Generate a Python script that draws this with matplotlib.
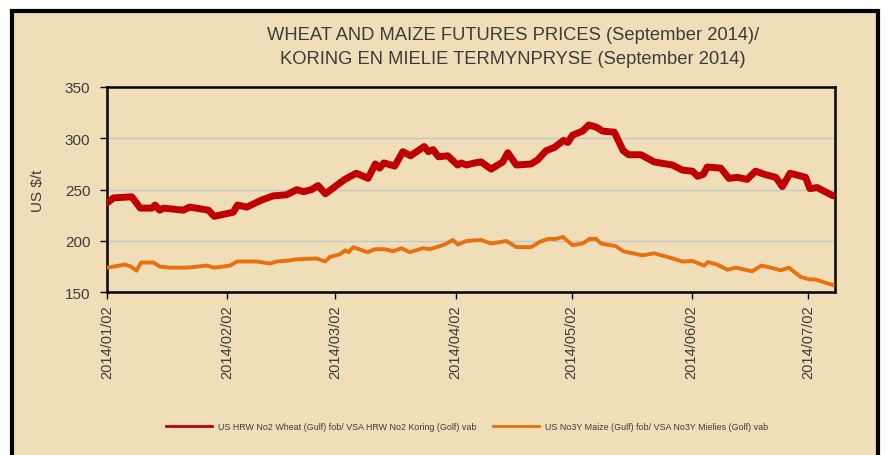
import matplotlib
matplotlib.use("Agg")
import matplotlib.pyplot as plt
import matplotlib.dates as mdates
from matplotlib.patches import Rectangle
from matplotlib.lines import Line2D
import pandas as pd

# ---- data (days after 2014-01-02, US$/t) ----
start_date = "2014-01-02"
wheat_days = [0, 1.7, 6.4, 8.6, 11.6, 12.4, 13.6, 14.6, 19.7, 21.3, 26.2, 27.7, 32.6, 33.7,
              36.1, 40, 43, 46.4, 49, 50.7, 52.8, 54.5, 56.4, 61.4, 64.4, 67.4, 69.3, 70.4,
              71.5, 74.3, 76.4, 78.4, 81.9, 83, 84.2, 85.6, 88, 90.5, 91.5, 92.8, 94.9, 96.6,
              99.2, 102.2, 103.5, 105.7, 109.5, 111.2, 113.4, 115.5, 117.9, 119, 120.2, 122.8,
              124.4, 126.3, 128, 131, 133.3, 134.7, 137.9, 141.3, 146, 148.6, 151.2, 152.5,
              154, 155, 158.5, 160.6, 162.8, 165.3, 167.5, 169.7, 172.7, 174.4, 176.4, 180.4,
              181.5, 183.4, 187.5]
wheat_prices = [237, 242, 243, 232, 232, 235, 230, 232, 230, 233, 230, 224, 228, 235,
                233, 240, 244, 245, 250, 248, 250, 254, 246, 260, 266, 261, 275, 271,
                276, 273, 287, 283, 292, 287, 289, 282, 283, 274, 276, 274, 276, 277,
                270, 277, 286, 274, 275, 279, 288, 291, 298, 296, 303, 307,
                313, 311, 307, 306, 288, 284, 284, 277, 274, 269, 268, 263,
                265, 272, 271, 261, 262, 260, 268, 265, 262, 253, 266, 262,
                251, 252, 244]
maize_days = [0, 4.7, 6.2, 7.6, 8.8, 12, 13.7, 16.3, 20.6, 25.8, 27.7, 31.8, 33.5, 38.7,
              42.1, 43.8, 47.2, 48.5, 54.1, 56.3, 57.6, 60.1, 61.6, 62.4, 63.6, 67.3, 69.2,
              71.7, 73.9, 76, 78.2, 81.6, 83.3, 85.1, 87.2, 89.3, 90.6, 92.8, 96.6, 99.2,
              103.1, 105.7, 109.5, 111.7, 113.8, 116, 117.7, 120.2, 122.8, 124.6, 126.3,
              127.6, 131.4, 133.3, 138.3, 141.3, 145.6, 148.6, 151.2, 154.2, 155.2, 157.6,
              160.2, 162.4, 166.6, 169, 171.4, 174, 176.1, 179.1, 181.3, 183, 187.5]
maize_prices = [174, 177, 175, 171, 179, 179, 175, 174, 174, 176, 174, 176, 180, 180,
                178, 180, 181, 182, 183, 180, 184.5, 187, 191, 189, 194, 189, 192,
                192, 190, 193, 189, 193, 192, 194, 196.5, 201, 196.5, 200, 201, 197.5,
                200, 194, 194, 199, 202, 202, 204, 196, 197.5, 202, 202,
                197.5, 195, 190, 186, 188, 183.5, 180, 180.5, 176, 179.5, 177,
                172, 174, 170.5, 176, 174, 171.5, 174, 165, 162.7, 162.4, 157]
tick_dates = ["2014-01-02", "2014-02-02", "2014-03-02", "2014-04-02",
              "2014-05-02", "2014-06-02", "2014-07-02"]
x_end = "2014-07-09"
y_ticks = [150, 200, 250, 300, 350]
wheat_label = "US HRW No2 Wheat (Gulf) fob/ VSA HRW No2 Koring (Golf) vab"
maize_label = "US No3Y Maize (Gulf) fob/ VSA No3Y Mielies (Golf) vab"
title_text = "WHEAT AND MAIZE FUTURES PRICES (September 2014)/\nKORING EN MIELIE TERMYNPRYSE (September 2014)"

# ---- styling ----
PARCH = "#F0DEB8"
TXT = "#3C3C3C"
WHEAT_C = "#C00000"
MAIZE_C = "#E8700E"
FONT = ["Liberation Sans", "DejaVu Sans"]
plt.rcParams["font.family"] = FONT

t0 = pd.Timestamp(start_date)
w_x = t0 + pd.to_timedelta(wheat_days, unit="D")
m_x = t0 + pd.to_timedelta(maize_days, unit="D")

W, H = 888, 456
fig = plt.figure(figsize=(W / 100, H / 100), dpi=100, facecolor="white")

# parchment panel with black frame
fig.patches.append(Rectangle((12 / W, -0.05), 866 / W, 1.05 - 12 / H,
                             transform=fig.transFigure, facecolor=PARCH,
                             edgecolor="black", linewidth=3, zorder=-5))

ax = fig.add_axes([107 / W, 1 - 293.3 / H, (835 - 107) / W, (293.3 - 88) / H])
ax.set_zorder(5)
ax.set_facecolor("none")

ax.plot(w_x, wheat_prices, color=WHEAT_C, lw=5.0, solid_joinstyle="round",
        solid_capstyle="round", zorder=3)
ax.plot(m_x, maize_prices, color=MAIZE_C, lw=2.8, solid_joinstyle="round",
        solid_capstyle="round", zorder=3)

ax.set_ylim(150, 350)
ax.set_yticks(y_ticks)
ax.set_xlim(t0, pd.Timestamp(x_end))
ax.set_xticks(pd.to_datetime(tick_dates))
ax.xaxis.set_major_formatter(mdates.DateFormatter("%Y/%m/%d"))
ax.grid(axis="y", color="#C3C5C8", lw=1.0, zorder=1)
ax.set_axisbelow(True)

for s in ax.spines.values():
    s.set_linewidth(1.8)
    s.set_color("black")

ax.tick_params(axis="y", direction="out", length=5, width=1, colors="black",
               labelcolor=TXT, labelsize=11, pad=7)
ax.tick_params(axis="x", direction="out", length=5, width=1, colors="black",
               labelcolor=TXT, labelsize=10.5, pad=4, labelrotation=90)

ax.set_ylabel("US $/t", color=TXT, fontsize=11, labelpad=14)

fig.text(513 / W, 1 - 47.5 / H, title_text, ha="center", va="center",
         color=TXT, fontsize=13.2, linespacing=1.5)

handles = [Line2D([], [], color=WHEAT_C, lw=2),
           Line2D([], [], color=MAIZE_C, lw=2)]
fig.legend(handles, [wheat_label, maize_label], loc="center",
           bbox_to_anchor=(467 / W, 1 - 428 / H), ncol=2, frameon=False,
           prop={"size": 6.4},
           handlelength=5.2, handletextpad=0.65, columnspacing=1.8,
           labelcolor=TXT)

fig.savefig("out.png", dpi=100, facecolor="white")
